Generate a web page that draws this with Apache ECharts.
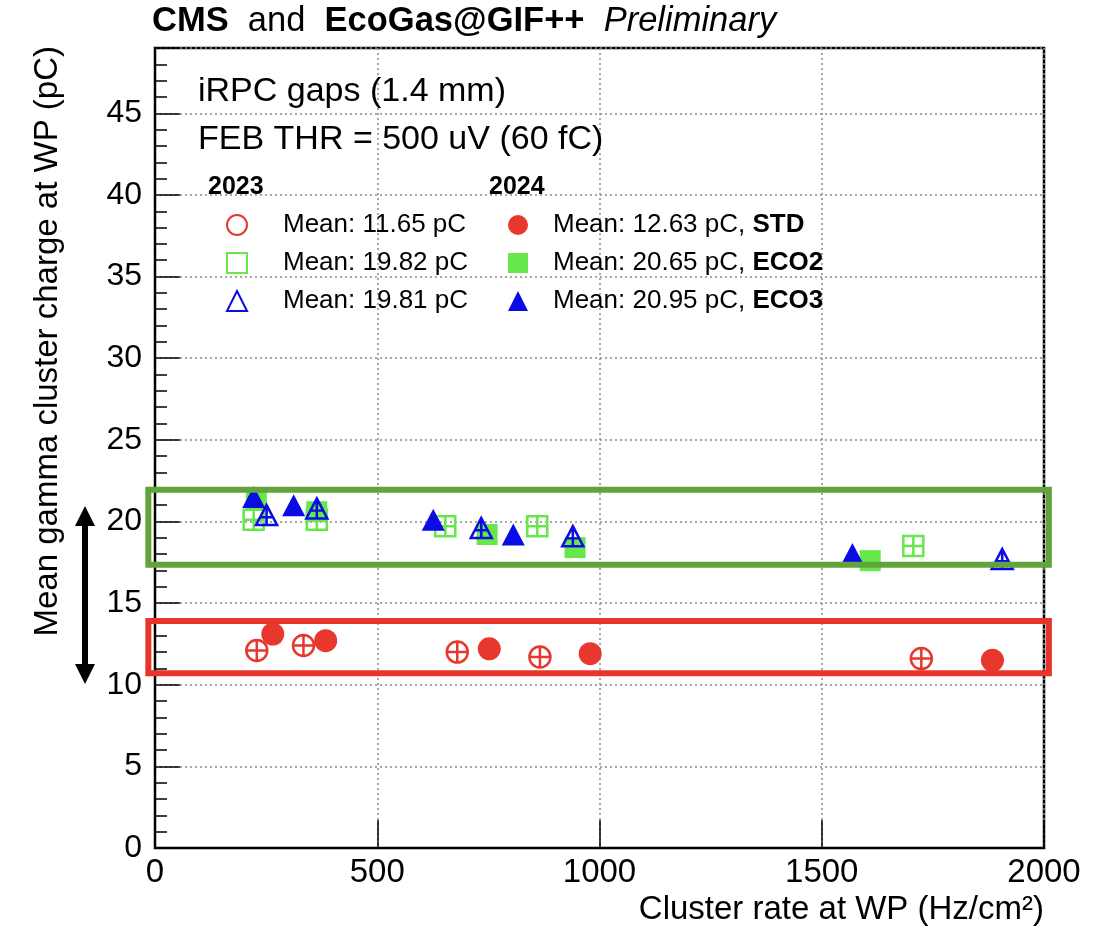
<!DOCTYPE html>
<html>
<head>
<meta charset="utf-8">
<script src="https://cdn.jsdelivr.net/npm/echarts@6/dist/echarts.min.js"></script>
<style>
  html, body { margin: 0; padding: 0; background: #fff; }
  #chart { width: 1099px; height: 936px; }
</style>
</head>
<body>
<div id="chart"></div>
<script>
// Cluster rate at working point (Hz/cm2) and mean gamma cluster charge (pC)
const std2023X  = [229, 334, 680, 866, 1724];
const std2023Y  = [12.1, 12.4, 12.0, 11.7, 11.6];
const std2024X  = [265, 384, 752, 979, 1884];
const std2024Y  = [13.1, 12.7, 12.2, 11.9, 11.5];
const eco2_2023X = [222, 364, 653, 860, 1706];
const eco2_2023Y = [20.1, 20.1, 19.7, 19.7, 18.5];
const eco2_2024X = [228, 364, 747, 945, 1609];
const eco2_2024Y = [21.3, 20.6, 19.2, 18.4, 17.6];
const eco3_2023X = [251, 364, 734, 940, 1906];
const eco3_2023Y = [20.4, 20.8, 19.6, 19.1, 17.7];
const eco3_2024X = [222, 312, 626, 806, 1569];
const eco3_2024Y = [21.5, 21.0, 20.1, 19.2, 18.0];

// Legend text
const gasNames  = ['STD', 'ECO2', 'ECO3'];
const means2023 = ['11.65', '19.82', '19.81'];
const means2024 = ['12.63', '20.65', '20.95'];

// Highlight bands (charge ranges) and the double arrow between them
const ecoBand = [17.35, 21.95];
const stdBand = [10.7, 13.9];
const arrowRange = [10.05, 20.95];

const RED = '#e8382d', GREEN = '#66e84a', BLUE = '#0b0be3';
const BOX_GREEN = '#62a43c', BOX_RED = '#e8352b';
const FONT = '"Liberation Sans", Arial, Helvetica, sans-serif';

// Open markers carry a cross (error bars drawn through them)
const OPEN_CIRCLE = 'path://M10,0C15.52,0 20,4.48 20,10C20,15.52 15.52,20 10,20C4.48,20 0,15.52 0,10C0,4.48 4.48,0 10,0ZM0,10L20,10M10,0L10,20';
const OPEN_SQUARE = 'path://M0,0L20,0L20,20L0,20ZM0,10L20,10M10,0L10,20';
const OPEN_TRIANGLE = 'path://M10,0L20,18L0,18ZM10,0L10,18M3.9,11L16.1,11';

function pts(xs, ys) { return xs.map((x, i) => [x, ys[i]]); }

function openSeries(name, xs, ys, symbol, color, size) {
  return {
    type: 'scatter', name, data: pts(xs, ys), symbol, symbolSize: size,
    itemStyle: { color: 'rgba(0,0,0,0)', borderColor: color, borderWidth: 2.5, opacity: 1 },
    emphasis: { disabled: true }, z: 3
  };
}
function filledSeries(name, xs, ys, symbol, color, size) {
  return {
    type: 'scatter', name, data: pts(xs, ys), symbol, symbolSize: size,
    itemStyle: { color: color, opacity: 1 }, emphasis: { disabled: true }, z: 3
  };
}

const names2023 = gasNames.map(g => '2023 ' + g);
const names2024 = gasNames.map(g => '2024 ' + g);

const chart = echarts.init(document.getElementById('chart'), null, { renderer: 'canvas' });

const gridLine = { show: true, lineStyle: { color: '#8a8a8a', width: 1.5, type: [2, 3] } };

chart.setOption({
  animation: false,
  backgroundColor: '#fff',
  title: {
    left: 152, top: 4, padding: 0,
    text: '{b|CMS}  and  {b|EcoGas@GIF++}  {i|Preliminary}',
    textStyle: {
      fontFamily: FONT, fontSize: 34.5, color: '#000', fontWeight: 'normal',
      rich: {
        b: { fontFamily: FONT, fontSize: 34.5, fontWeight: 'bold', color: '#000' },
        i: { fontFamily: FONT, fontSize: 34.5, fontStyle: 'italic', color: '#000' }
      }
    }
  },
  grid: {
    left: 155, right: 55, top: 48, bottom: 88,
    show: true, borderColor: '#000', borderWidth: 2.5, backgroundColor: 'transparent'
  },
  xAxis: {
    type: 'value', min: 0, max: 2000, interval: 500,
    name: 'Cluster rate at WP (Hz/cm²)', nameLocation: 'end', nameGap: 0,
    nameTextStyle: { fontFamily: FONT, fontSize: 33, color: '#000', align: 'right', verticalAlign: 'top', padding: [45, 0, 0, 0] },
    axisLine: { show: true, lineStyle: { color: '#000', width: 2 } },
    axisTick: { show: true, inside: true, length: 28, lineStyle: { color: '#000', width: 1.5 } },
    axisLabel: { fontFamily: FONT, fontSize: 33, color: '#000', margin: 8, formatter: v => String(v) },
    splitLine: gridLine
  },
  yAxis: {
    type: 'value', min: 0, max: 49, interval: 5,
    axisLine: { show: true, lineStyle: { color: '#000', width: 2 } },
    axisTick: { show: true, inside: true, length: 25, lineStyle: { color: '#000', width: 1.5 } },
    minorTick: { show: true, splitNumber: 5, length: 12, lineStyle: { color: '#000', width: 1.5 } },
    axisLabel: {
      fontFamily: FONT, fontSize: 32, color: '#000', margin: 13, showMaxLabel: false,
      formatter: v => (v % 5 === 0 ? String(v) : '')
    },
    splitLine: gridLine
  },
  legend: [
    {
      orient: 'vertical', left: 226, top: 212, padding: 0,
      itemWidth: 20, itemHeight: 20, itemGap: 12, selectedMode: false,
      data: [
        { name: names2023[0], icon: 'emptyCircle', itemStyle: { color: RED } },
        { name: names2023[1], icon: 'emptyRect', itemStyle: { color: GREEN } },
        { name: names2023[2], icon: 'emptyTriangle', itemStyle: { color: BLUE } }
      ],
      formatter: n => 'Mean: ' + means2023[names2023.indexOf(n)] + ' pC',
      textStyle: { fontFamily: FONT, fontSize: 26, color: '#000', lineHeight: 26, padding: [0, 0, 0, 31] }
    },
    {
      orient: 'vertical', left: 508, top: 212, padding: 0,
      itemWidth: 20, itemHeight: 20, itemGap: 12, selectedMode: false,
      data: [
        { name: names2024[0], icon: 'circle' },
        { name: names2024[1], icon: 'rect' },
        { name: names2024[2], icon: 'triangle' }
      ],
      formatter: n => {
        const i = names2024.indexOf(n);
        return 'Mean: ' + means2024[i] + ' pC, {b|' + gasNames[i] + '}';
      },
      textStyle: {
        fontFamily: FONT, fontSize: 26, color: '#000', lineHeight: 26, padding: [0, 0, 0, 20],
        rich: { b: { fontFamily: FONT, fontSize: 26, fontWeight: 'bold', color: '#000', lineHeight: 26 } }
      }
    }
  ],
  series: [
    openSeries(names2023[0], std2023X, std2023Y, OPEN_CIRCLE, RED, 21),
    filledSeries(names2024[0], std2024X, std2024Y, 'circle', RED, 23),
    openSeries(names2023[1], eco2_2023X, eco2_2023Y, OPEN_SQUARE, GREEN, 20),
    filledSeries(names2024[1], eco2_2024X, eco2_2024Y, 'rect', GREEN, 21),
    openSeries(names2023[2], eco3_2023X, eco3_2023Y, OPEN_TRIANGLE, BLUE, [21, 20]),
    filledSeries(names2024[2], eco3_2024X, eco3_2024Y, 'triangle', BLUE, [23, 22])
  ]
});

// Annotation layer: band boxes, double arrow, texts
function px(x, y) { return chart.convertToPixel({ gridIndex: 0 }, [x, y]); }

const xLeftBox = -15, xRightBox = 2011;
function bandRect(band, color) {
  const a = px(xLeftBox, band[1]);
  const b = px(xRightBox, band[0]);
  return {
    type: 'rect', z: 100, silent: true,
    shape: { x: a[0], y: a[1], width: b[0] - a[0], height: b[1] - a[1] },
    style: { fill: 'none', stroke: color, lineWidth: 6 }
  };
}

const arrowX = 85;
const yTop = px(0, arrowRange[1])[1];
const yBot = px(0, arrowRange[0])[1];
const headLen = 20, headHalf = 10;

chart.setOption({
  graphic: [
    bandRect(ecoBand, BOX_GREEN),
    bandRect(stdBand, BOX_RED),
    {
      type: 'line', z: 100, silent: true,
      shape: { x1: arrowX, y1: yTop + headLen - 2, x2: arrowX, y2: yBot - headLen + 2 },
      style: { stroke: '#000', lineWidth: 6 }
    },
    {
      type: 'polygon', z: 100, silent: true,
      shape: { points: [[arrowX, yTop], [arrowX - headHalf, yTop + headLen], [arrowX + headHalf, yTop + headLen]] },
      style: { fill: '#000' }
    },
    {
      type: 'polygon', z: 100, silent: true,
      shape: { points: [[arrowX, yBot], [arrowX - headHalf, yBot - headLen], [arrowX + headHalf, yBot - headLen]] },
      style: { fill: '#000' }
    },
    {
      type: 'text', z: 100, silent: true, x: 48, y: 46, rotation: Math.PI / 2,
      style: {
        text: 'Mean gamma cluster charge at WP (pC)', fontFamily: FONT, fontSize: 33,
        fill: '#000', align: 'right', verticalAlign: 'middle'
      }
    },
    {
      type: 'text', z: 100, silent: true, x: 198, y: 92,
      style: { text: 'iRPC gaps (1.4 mm)', fontFamily: FONT, fontSize: 34, fill: '#000', align: 'left', verticalAlign: 'middle' }
    },
    {
      type: 'text', z: 100, silent: true, x: 198, y: 140,
      style: { text: 'FEB THR = 500 uV (60 fC)', fontFamily: FONT, fontSize: 34, fill: '#000', align: 'left', verticalAlign: 'middle' }
    },
    {
      type: 'text', z: 100, silent: true, x: 208, y: 187,
      style: { text: '2023', fontFamily: FONT, fontSize: 25, fontWeight: 'bold', fill: '#000', align: 'left', verticalAlign: 'middle' }
    },
    {
      type: 'text', z: 100, silent: true, x: 489, y: 187,
      style: { text: '2024', fontFamily: FONT, fontSize: 25, fontWeight: 'bold', fill: '#000', align: 'left', verticalAlign: 'middle' }
    }
  ]
});
</script>
</body>
</html>
